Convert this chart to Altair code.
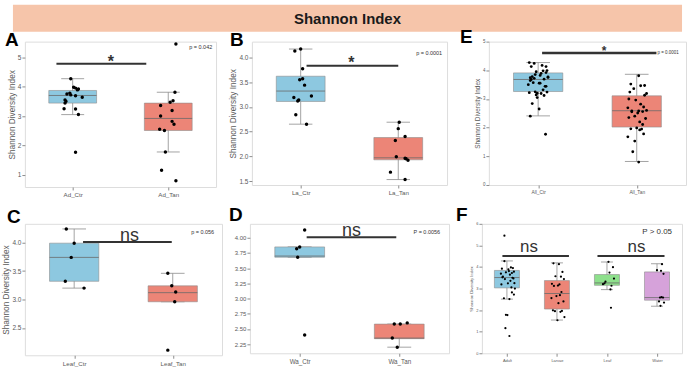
import altair as alt
import pandas as pd

FONT = "Liberation Sans"
TITLE = "Shannon Index"
Y_TITLE = "Shannon Diversity Index"

BLUE, RED, GREEN, PURPLE = "#8DC8E0", "#EC8577", "#8EE08C", "#D6A2DA"
GRAY = "#8c8c8c"
TXT = "#5a5a5a"

# ---------------- data ----------------
AD_CTR = [4.27, 3.98, 3.95, 3.92, 3.89, 3.78, 3.75, 3.72, 3.69, 3.64, 3.55, 3.50, 3.44, 3.25, 3.24, 3.05, 1.77]
AD_CTR_JIT = [-0.02, 0.01, 0.03, 0.06, 0.05, -0.03, -0.06, -0.02, 0.03, 0.10, -0.08, -0.07, -0.08, -0.09, 0.03, 0.06, 0.03]
AD_TAN = [5.45, 3.81, 3.52, 3.47, 3.36, 3.19, 3.00, 2.82, 2.72, 2.55, 2.51, 1.78, 1.16, 0.80]
AD_TAN_JIT = [0.08, 0.07, 0.05, 0.02, -0.08, 0.04, -0.08, 0.04, 0.06, -0.09, -0.04, -0.03, -0.07, 0.08]

LA_CTR = [4.17, 4.13, 3.77, 3.57, 3.55, 3.44, 3.22, 3.19, 3.14, 3.12, 2.84, 2.65]
LA_CTR_JIT = [0.00, -0.06, 0.02, 0.02, -0.01, 0.04, 0.11, -0.07, -0.02, -0.03, -0.05, 0.06]
LA_TAN = [2.69, 2.56, 2.40, 2.32, 1.99, 1.96, 1.95, 1.92, 1.68, 1.53]
LA_TAN_JIT = [0.01, 0.00, 0.07, -0.03, -0.02, 0.07, 0.08, 0.10, -0.08, 0.07]

LEAF_CTR = [4.24, 3.99, 3.74, 3.32, 3.20]
LEAF_CTR_JIT = [-0.08, 0.00, -0.03, -0.09, 0.10]
LEAF_TAN = [3.46, 3.24, 3.13, 2.96, 2.11]
LEAF_TAN_JIT = [-0.05, -0.01, 0.03, 0.02, -0.05]

WA_CTR = [4.13, 3.85, 3.82, 3.68, 2.40]
WA_CTR_JIT = [0.05, 0.00, -0.03, -0.02, 0.05]
WA_TAN = [2.58, 2.58, 2.60, 2.35, 2.20]
WA_TAN_JIT = [-0.05, 0.01, 0.08, -0.07, -0.02]

E_CTR_JIT = [-0.09, 0.05, -0.02, 0.08, 0.03, -0.06, 0.10, -0.04, 0.06, -0.08, 0.02, -0.10, 0.07, -0.03, 0.09, -0.01, 0.075,
             0.04, -0.07, 0.10, -0.05, 0.01, 0.08, -0.09, 0.03, -0.02, 0.06, -0.06, 0.01,
             -0.04, 0.09, -0.08, 0.05, -0.01,
             0.08, -0.03, 0.02, -0.07, -0.08]
E_TAN_JIT = [0.05, 0.02, -0.06, 0.08, -0.03, 0.10, -0.08, 0.04, 0.07, -0.05, 0.01, 0.07, -0.04, 0.02,
             -0.09, 0.06, -0.02, 0.09, 0.00, -0.06, 0.05, 0.03, -0.09, -0.02,
             0.04, -0.07, 0.08, -0.01, 0.06,
             -0.05, 0.02, 0.10, -0.08, 0.03]

F_ADULT_JIT = [-0.05, 0.08, 0.12, -0.10, 0.03, 0.14, -0.02, 0.10, -0.12, 0.06, -0.08, 0.11, -0.04, 0.15, 0.02, 0.09, 0.01,
               -0.05, 0.04, -0.09, 0.13, 0.07, -0.11, 0.16, 0.10, 0.14, -0.06, 0.05, -0.02, -0.03, 0.05]
F_LARVAE_JIT = [-0.07, 0.04, 0.11, -0.03, 0.08, 0.14, -0.10, 0.05, 0.02, -0.06, 0.09, -0.01,
                0.06, -0.11, 0.13, 0.03, -0.08, 0.10, -0.04, 0.07, 0.15, 0.01]
F_LEAF_JIT = [0.03, 0.12, 0.05, -0.03, -0.08, 0.14, -0.05, 0.09, 0.07, 0.08]
F_WATER_JIT = [0.10, 0.00, 0.08, 0.13, 0.04, 0.06, 0.12, 0.09, 0.14, 0.07]

# box statistics [whisker low, q1, median, q3, whisker high]
A_CATS = ["Ad_Ctr", "Ad_Tan"]
A_BOX = [[3.05, 3.44, 3.70, 3.87, 4.27], [1.78, 2.51, 2.92, 3.44, 3.81]]
B_CATS = ["La_Ctr", "La_Tan"]
B_BOX = [[2.65, 3.11, 3.32, 3.62, 4.17], [1.53, 1.93, 1.97, 2.38, 2.69]]
C_CATS = ["Leaf_Ctr", "Leaf_Tan"]
C_BOX = [[3.20, 3.32, 3.74, 3.99, 4.24], [2.96, 2.96, 3.12, 3.24, 3.46]]
D_CATS = ["Wa_Ctr", "Wa_Tan"]
D_BOX = [[3.68, 3.68, 3.70, 3.85, 3.85], [2.20, 2.34, 2.35, 2.58, 2.58]]
E_CATS = ["All_Ctr", "All_Tan"]
E_BOX = [[2.41, 3.26, 3.68, 3.91, 4.27], [0.82, 2.02, 2.59, 3.11, 3.86]]
F_CATS = ["Adult", "Larvae", "Leaf", "Water"]
F_BOX = [[2.51, 3.03, 3.51, 3.84, 4.28], [1.54, 2.05, 2.77, 3.37, 4.19],
         [2.95, 3.15, 3.26, 3.65, 4.23], [2.18, 2.46, 2.58, 3.77, 4.15]]

# significance annotations: bar from x0 to x1 at y, label at (lx, ly)
A_SIG = {"x0": [0.83], "x1": [1.77], "y": [4.78], "lab": ["*"], "lx": [1.40], "ly": [4.68]}
B_SIG = {"x0": [1.06], "x1": [2.00], "y": [3.83], "lab": ["*"], "lx": [1.52], "ly": [3.79]}
C_SIG = {"x0": [1.09], "x1": [1.99], "y": [4.01], "lab": ["ns"], "lx": [1.56], "ly": [4.03]}
D_SIG = {"x0": [1.07], "x1": [1.97], "y": [4.01], "lab": ["ns"], "lx": [1.52], "ly": [4.03]}
E_SIG = {"x0": [1.04], "x1": [2.20], "y": [4.60], "lab": ["*"], "lx": [1.67], "ly": [4.52]}
F_SIG = {"x0": [0.91, 2.81], "x1": [2.24, 4.15], "y": [4.51, 4.51], "lab": ["ns", "ns"],
         "lx": [1.44, 3.59], "ly": [4.68, 4.68]}

A_P = {"pt": ["p = 0.042"], "px": [2.46], "py": [5.36]}
B_P = {"pt": ["p = 0.0001"], "px": [2.45], "py": [4.08]}
C_P = {"pt": ["p = 0.056"], "px": [2.42], "py": [4.18]}
D_P = {"pt": ["P = 0.0056"], "px": [2.41], "py": [4.09]}
E_P = {"pt": ["p = 0.0001"], "px": [2.21], "py": [4.60]}
F_P = {"pt": ["P > 0.05"], "px": [4.30], "py": [5.62]}


def make_panel(letter, cats, colors, groups, boxstats, dom, ticks, fmt, ytitle,
               width, height, sig, ptxt, st):
    n = len(cats)
    rows = []
    for i, (vals, jit) in enumerate(groups):
        for v, j in zip(vals, jit):
            rows.append({"idx": i + 1, "jit": j, "value": v})
    pts = pd.DataFrame(rows)
    box = pd.DataFrame({
        "idx": list(range(1, n + 1)), "cat": cats, "fillcol": colors,
        "lo": [b[0] for b in boxstats], "q1": [b[1] for b in boxstats],
        "med": [b[2] for b in boxstats], "q3": [b[3] for b in boxstats],
        "hi": [b[4] for b in boxstats],
    })
    label_expr = "[" + ", ".join(f"'{c}'" for c in cats) + "][datum.value - 1]"
    xscale = alt.Scale(domain=[0.5, n + 0.5], nice=False, zero=False)
    yscale = alt.Scale(domain=dom, nice=False, zero=False)
    xaxis = alt.Axis(values=list(range(1, n + 1)), labelExpr=label_expr, title=None, grid=False,
                     domain=False, tickSize=3, tickColor=GRAY, labelColor=TXT,
                     labelFontSize=st["xfs"], labelPadding=2, labelFont=FONT)
    ykw = dict(values=ticks, format=fmt, grid=False, domain=False, tickSize=3, tickColor=GRAY,
               labelColor=TXT, labelFontSize=st["yfs"], labelPadding=1, labelFont=FONT)
    if ytitle:
        yaxis = alt.Axis(title=ytitle, titleFontSize=st["tfs"], titleColor=TXT, titleFontWeight="normal",
                         titlePadding=st["tpad"], titleFont=FONT, **ykw)
    else:
        yaxis = alt.Axis(title=None, **ykw)

    def X(f):
        return alt.X(f, scale=xscale, axis=xaxis)

    def Y(f):
        return alt.Y(f, scale=yscale, axis=yaxis)

    base = alt.Chart(box)
    whisk = base.mark_rule(color=GRAY, strokeWidth=0.8).encode(x=X("idx:Q"), y=Y("lo:Q"), y2="hi:Q")
    caps = base.transform_fold(["lo", "hi"], as_=["k", "v"]).transform_calculate(
        c0="datum.idx - 0.12", c1="datum.idx + 0.12"
    ).mark_rule(color=GRAY, strokeWidth=0.8).encode(x=X("c0:Q"), x2="c1:Q", y=Y("v:Q"))
    bx = base.transform_calculate(b0="datum.idx - 0.25", b1="datum.idx + 0.25")
    boxes = bx.mark_rect(stroke=GRAY, strokeWidth=0.6).encode(
        x=X("b0:Q"), x2="b1:Q", y=Y("q1:Q"), y2="q3:Q",
        fill=alt.Fill("fillcol:N", scale=None, legend=None))
    med = bx.mark_rule(color="#6a6a6a", strokeWidth=0.8).encode(x=X("b0:Q"), x2="b1:Q", y=Y("med:Q"))
    dots = alt.Chart(pts).transform_calculate(xp="datum.idx + datum.jit").mark_circle(
        size=st["ds"], color="black", opacity=1, clip=True).encode(x=X("xp:Q"), y=Y("value:Q"))
    sdf = pd.DataFrame(sig)
    bars = alt.Chart(sdf).mark_rule(color="#333333", strokeWidth=st["sw"]).encode(
        x=X("x0:Q"), x2="x1:Q", y=Y("y:Q"))
    labs = alt.Chart(sdf).mark_text(fontSize=st["sfs"], fontWeight=st["sfw"], color="#333333", font=FONT,
                                    baseline="alphabetic").encode(x=X("lx:Q"), y=Y("ly:Q"), text="lab:N")
    ptx = alt.Chart(pd.DataFrame(ptxt)).mark_text(fontSize=st["pfs"], align=st["palign"], color="#333333",
                                                  font=FONT, baseline="middle").encode(
        x=X("px:Q"), y=Y("py:Q"), text="pt:N")
    return alt.layer(whisk, caps, boxes, med, dots, bars, labs, ptx).properties(
        width=width, height=height,
        title=alt.TitleParams(letter, anchor="start", frame="group", fontSize=19, fontWeight="bold",
                              font=FONT, color="black", offset=st["toff"], dx=st["tdx"]))


big = dict(xfs=6.2, yfs=6.5, tfs=8.3, tpad=1, ds=12, sw=2, sfs=16, sfw="bold", pfs=5.5, palign="right")

stA = dict(big, toff=-8, tdx=-20)
stB = dict(big, toff=-8, tdx=-22)
stC = dict(big, sfs=18, sfw="normal", toff=-3, tdx=-18)
stD = dict(big, sfs=18, sfw="normal", xfs=6.3, yfs=6, toff=-3, tdx=-21)
stE = dict(xfs=4.8, yfs=4.5, tfs=6.5, tpad=2, ds=8, sw=2.5, sfs=12, sfw="bold", pfs=4.5, palign="left",
           toff=-8, tdx=-29)
stF = dict(xfs=4, yfs=4, tfs=4.2, tpad=2, ds=5, sw=2, sfs=17, sfw="normal", pfs=8, palign="right",
           toff=-3, tdx=-26)

pA = make_panel("A", A_CATS, [BLUE, RED], [(AD_CTR, AD_CTR_JIT), (AD_TAN, AD_TAN_JIT)], A_BOX,
                [0.59, 5.53], [1, 2, 3, 4, 5], "d", Y_TITLE, 192, 146, A_SIG, A_P, stA)
pB = make_panel("B", B_CATS, [BLUE, RED], [(LA_CTR, LA_CTR_JIT), (LA_TAN, LA_TAN_JIT)], B_BOX,
                [1.42, 4.32], [1.5, 2.0, 2.5, 3.0, 3.5, 4.0], ".1f", Y_TITLE, 196, 144, B_SIG, B_P, stB)
pE = make_panel("E", E_CATS, [BLUE, RED],
                [(AD_CTR + LA_CTR + LEAF_CTR + WA_CTR, E_CTR_JIT), (AD_TAN + LA_TAN + LEAF_TAN + WA_TAN, E_TAN_JIT)],
                E_BOX, [0, 5], [0, 1, 2, 3, 4, 5], "d", Y_TITLE, 198, 144, E_SIG, E_P, stE)
pC = make_panel("C", C_CATS, [BLUE, RED], [(LEAF_CTR, LEAF_CTR_JIT), (LEAF_TAN, LEAF_TAN_JIT)], C_BOX,
                [2.02, 4.33], [2.5, 3.0, 3.5, 4.0], ".1f", Y_TITLE, 198, 132, C_SIG, C_P, stC)
pD = make_panel("D", D_CATS, [BLUE, RED], [(WA_CTR, WA_CTR_JIT), (WA_TAN, WA_TAN_JIT)], D_BOX,
                [2.10, 4.23], [2.25, 2.5, 2.75, 3.0, 3.25, 3.5, 3.75, 4.0], ".2f", None, 200, 130, D_SIG, D_P, stD)
pF = make_panel("F", F_CATS, [BLUE, RED, GREEN, PURPLE],
                [(AD_CTR + AD_TAN, F_ADULT_JIT), (LA_CTR + LA_TAN, F_LARVAE_JIT),
                 (LEAF_CTR + LEAF_TAN, F_LEAF_JIT), (WA_CTR + WA_TAN, F_WATER_JIT)],
                F_BOX, [0, 6], [0, 1, 2, 3, 4, 5, 6], "d", Y_TITLE, 201, 130, F_SIG, F_P, stF)

# title banner; its group origin is aligned with the left edge of panels A and C
tdf = pd.DataFrame({"label": [TITLE]})
band = alt.Chart(tdf).mark_rect(color="#F6C5AA").encode(
    x=alt.value(-12), x2=alt.value(660), y=alt.value(0), y2=alt.value(27))
ttext = alt.Chart(tdf).mark_text(font=FONT, fontSize=15, fontWeight="bold", color="#1a1a1a",
                                 baseline="middle").encode(
    x=alt.value(324), y=alt.value(14), text="label:N")
title_chart = alt.layer(band, ttext).properties(width=600, height=27, view=alt.ViewConfig(stroke="transparent"))

row1 = alt.hconcat(pA, pB, pE, spacing=11)
row2 = alt.hconcat(pC, pD, pF, spacing=5)
rows = alt.vconcat(row1, row2, spacing=6)
chart = alt.vconcat(title_chart, rows, spacing=-6).properties(
    padding={"left": 1, "top": 3, "right": 0, "bottom": 0}
).configure_view(stroke="#999999", strokeWidth=1.2).configure(background="white")

chart.save("out.html", embed_options={"renderer": "svg", "actions": False})
